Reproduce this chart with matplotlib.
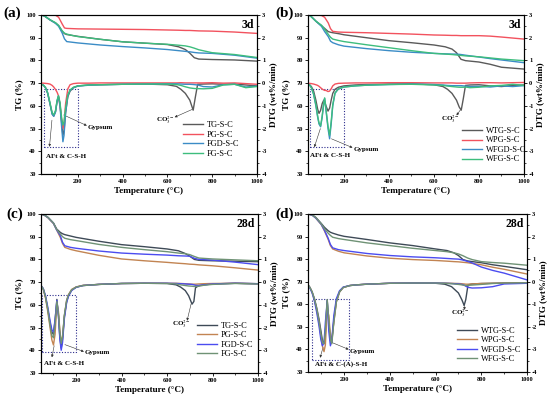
"""TG / DTG curves of the four cured pastes at 3 d and 28 d."""
import matplotlib
matplotlib.use("Agg")
import matplotlib.pyplot as plt
from matplotlib.patches import Rectangle
from matplotlib.ticker import MultipleLocator

plt.rcParams.update({
    "font.family": ["Liberation Serif", "DejaVu Serif"],
    "mathtext.fontset": "stix",
    "axes.unicode_minus": False,
    "axes.linewidth": 0.8,
})

# ---------------- panel (a): 3 d ----------------
A_T_TG = [35, 50, 76, 100, 114, 130, 140, 150, 175, 200, 300, 400, 500, 600, 650, 680, 700, 720, 740, 800, 900, 1000]
A_TG = {
    "TG-S-C": [100, 99.6, 97.8, 96.5, 95.3, 92.8, 91.8, 91.4, 91.0, 90.6, 89.3, 88.2, 87.6, 87.0, 86.0, 84.8, 83.2, 81.2, 80.6, 80.4, 80.2, 79.7],
    "PG-S-C": [100, 100, 100, 99.9, 99.0, 96.0, 94.3, 94.1, 94.0, 93.9, 93.8, 93.7, 93.6, 93.4, 93.3, 93.2, 93.2, 93.1, 93.0, 92.9, 92.5, 91.9],
    "FGD-S-C": [100, 99.6, 97.8, 96.3, 95.0, 92.0, 89.5, 88.3, 88.0, 87.7, 86.8, 86.1, 85.5, 84.8, 84.3, 84.0, 83.8, 83.5, 83.3, 83.1, 82.3, 81.0],
    "FG-S-C": [100, 99.6, 97.9, 96.6, 95.4, 93.0, 92.0, 91.6, 91.0, 90.5, 89.3, 88.2, 87.6, 87.1, 86.7, 86.4, 86.0, 85.4, 84.7, 83.4, 82.6, 81.3],
}
A_T_DTG = [35, 45, 55, 65, 75, 85, 92, 100, 107, 113, 120, 127, 133, 138, 145, 155, 165, 180, 200, 250,
           300, 400, 500, 600, 640, 660, 680, 700, 715, 725, 735, 760, 800, 850, 900, 950, 1000]
A_DTG = {
    "TG-S-C": [-0.04, -0.08, -0.20, -0.45, -0.90, -1.35, -1.45, -1.25, -0.80, -0.60, -0.90, -1.70, -2.30, -2.10, -1.30, -0.60, -0.35, -0.20, -0.12, -0.08,
               -0.07, -0.05, -0.04, -0.07, -0.14, -0.27, -0.45, -0.75, -1.19, -0.60, -0.05, -0.04, -0.03, -0.05, -0.04, -0.08, -0.12],
    "PG-S-C": [0.00, 0.00, -0.01, -0.02, -0.04, -0.10, -0.17, -0.28, -0.40, -0.55, -1.00, -1.60, -2.00, -1.80, -0.90, -0.25, -0.07, -0.02, 0.00, 0.00,
               0.01, 0.01, 0.01, 0.01, 0.01, 0.02, 0.01, 0.01, 0.01, 0.01, 0.01, 0.01, 0.02, 0.00, 0.01, -0.02, -0.05],
    "FGD-S-C": [-0.05, -0.08, -0.20, -0.45, -0.90, -1.37, -1.46, -1.27, -0.80, -0.57, -1.00, -1.90, -2.58, -2.30, -1.30, -0.55, -0.32, -0.20, -0.13, -0.09,
                -0.07, -0.05, -0.04, -0.03, -0.03, -0.04, -0.05, -0.05, -0.06, -0.07, -0.08, -0.15, -0.17, -0.07, -0.05, -0.17, -0.13],
    "FG-S-C": [-0.05, -0.08, -0.18, -0.42, -0.85, -1.30, -1.40, -1.20, -0.75, -0.55, -0.85, -1.50, -1.85, -1.70, -1.10, -0.52, -0.30, -0.18, -0.12, -0.08,
               -0.07, -0.05, -0.04, -0.04, -0.06, -0.10, -0.16, -0.21, -0.23, -0.24, -0.24, -0.25, -0.23, -0.08, -0.05, -0.20, -0.15],
}

# ---------------- panel (b): 3 d, W series ----------------
B_T_TG = [40, 50, 76, 100, 114, 130, 140, 150, 175, 200, 300, 400, 500, 600, 650, 680, 700, 720, 740, 800, 850, 900, 1000]
B_TG = {
    "WTG-S-C": [100, 99.7, 97.2, 95.3, 94.1, 92.7, 92.4, 92.2, 91.8, 91.3, 90.0, 88.7, 87.8, 86.8, 86.0, 85.0, 83.4, 80.5, 79.9, 79.3, 78.3, 77.0, 76.2],
    "WPG-S-C": [100, 100, 100, 99.8, 99.0, 96.5, 94.0, 92.8, 92.5, 92.4, 92.2, 91.9, 91.6, 91.2, 91.1, 91.0, 91.0, 90.9, 90.9, 90.9, 90.7, 90.3, 89.4],
    "WFGD-S-C": [100, 99.7, 97.2, 95.0, 92.7, 90.5, 88.5, 87.8, 86.9, 86.3, 85.2, 84.3, 83.6, 83.1, 82.9, 82.8, 82.8, 82.6, 82.3, 81.5, 80.8, 80.2, 79.0],
    "WFG-S-C": [100, 99.7, 97.2, 95.5, 93.7, 91.5, 90.2, 89.4, 88.8, 88.3, 86.9, 85.6, 84.3, 83.1, 82.8, 82.6, 82.4, 82.2, 82.0, 81.6, 81.1, 80.6, 79.9],
}
B_T_DTG = [40, 47, 55, 65, 75, 83, 89, 96, 103, 110, 114, 120, 129, 136, 143, 150, 160, 175, 200, 250,
           300, 400, 500, 600, 640, 660, 680, 700, 712, 721, 730, 740, 760, 800, 850, 900, 950, 1000]
B_DTG = {
    "WTG-S-C": [-0.05, -0.07, -0.15, -0.35, -0.75, -1.15, -1.33, -1.20, -0.90, -0.75, -0.80, -1.00, -1.23, -1.10, -0.75, -0.45, -0.27, -0.18, -0.12, -0.08,
                -0.06, -0.04, -0.03, -0.07, -0.15, -0.27, -0.45, -0.75, -1.05, -1.19, -0.70, -0.10, -0.08, -0.07, -0.12, -0.15, -0.10, -0.08],
    "WPG-S-C": [-0.01, -0.01, -0.02, -0.04, -0.07, -0.10, -0.14, -0.20, -0.26, -0.30, -0.32, -0.32, -0.37, -0.35, -0.25, -0.12, -0.04, -0.01, 0.00, 0.01,
                0.01, 0.02, 0.02, 0.01, 0.01, 0.01, 0.01, 0.00, 0.00, 0.00, 0.00, 0.00, 0.01, 0.02, 0.02, 0.01, 0.02, 0.03],
    "WFGD-S-C": [-0.07, -0.08, -0.20, -0.50, -1.00, -1.50, -1.80, -1.92, -1.50, -0.90, -0.67, -1.20, -2.00, -2.45, -1.80, -1.00, -0.45, -0.25, -0.17, -0.12,
                 -0.09, -0.06, -0.04, -0.06, -0.08, -0.10, -0.11, -0.11, -0.11, -0.11, -0.12, -0.13, -0.15, -0.14, -0.17, -0.12, -0.15, -0.11],
    "WFG-S-C": [-0.07, -0.08, -0.20, -0.48, -0.95, -1.45, -1.75, -1.88, -1.45, -0.85, -0.65, -1.15, -1.90, -2.30, -1.70, -0.95, -0.43, -0.25, -0.17, -0.12,
                -0.09, -0.06, -0.05, -0.08, -0.10, -0.13, -0.15, -0.17, -0.18, -0.18, -0.18, -0.17, -0.20, -0.18, -0.12, -0.10, -0.05, -0.10],
}

# ---------------- panel (c): 28 d ----------------
C_T_TG = [45, 60, 76, 100, 114, 130, 140, 150, 175, 200, 300, 400, 500, 600, 650, 680, 700, 720, 740, 800, 900, 1000]
C_TG = {
    "TG-S-C": [100, 99.5, 98.5, 96.0, 93.4, 91.9, 91.3, 90.9, 90.3, 89.7, 88.0, 86.5, 85.6, 84.6, 83.8, 82.6, 81.4, 80.0, 79.6, 79.4, 79.2, 79.0],
    "PG-S-C": [100, 99.5, 98.3, 95.8, 93.0, 89.7, 87.0, 85.3, 84.4, 83.8, 81.8, 80.2, 79.4, 78.7, 78.3, 78.1, 77.9, 77.8, 77.6, 77.2, 76.3, 75.3],
    "FGD-S-C": [100, 99.5, 98.4, 95.9, 93.0, 90.5, 87.5, 86.0, 85.3, 84.9, 83.7, 82.8, 82.3, 81.9, 81.6, 81.5, 81.4, 80.5, 80.0, 79.7, 78.8, 77.7],
    "FG-S-C": [100, 99.5, 98.5, 96.0, 93.2, 91.2, 90.0, 89.3, 88.7, 88.3, 86.6, 85.3, 84.3, 83.4, 82.8, 82.5, 82.1, 81.3, 80.6, 80.2, 79.8, 79.4],
}
C_T_DTG = [45, 55, 65, 75, 85, 93, 100, 107, 115, 122, 128, 134, 140, 148, 158, 166, 180, 200, 230, 300,
           400, 500, 600, 640, 660, 680, 695, 710, 718, 725, 740, 760, 800, 900, 1000]
C_DTG = {
    "TG-S-C": [-0.15, -0.30, -0.65, -1.20, -1.80, -2.20, -2.30, -1.70, -0.76, -1.50, -2.40, -2.90, -2.50, -1.50, -0.85, -0.60, -0.35, -0.22, -0.15, -0.10,
               -0.06, -0.05, -0.06, -0.12, -0.22, -0.37, -0.60, -0.97, -0.85, -0.25, -0.15, -0.12, -0.08, -0.05, -0.07],
    "PG-S-C": [-0.15, -0.30, -0.70, -1.30, -2.00, -2.55, -2.77, -2.30, -0.95, -1.30, -2.10, -2.65, -2.40, -1.50, -0.80, -0.55, -0.32, -0.21, -0.14, -0.10,
               -0.06, -0.05, -0.05, -0.05, -0.06, -0.07, -0.08, -0.09, -0.09, -0.09, -0.08, -0.07, -0.06, -0.05, -0.07],
    "FGD-S-C": [-0.15, -0.28, -0.60, -1.10, -1.70, -2.10, -2.20, -1.65, -0.80, -1.50, -2.50, -3.00, -2.65, -1.60, -0.90, -0.62, -0.37, -0.23, -0.15, -0.10,
                -0.06, -0.05, -0.05, -0.06, -0.07, -0.08, -0.09, -0.10, -0.12, -0.14, -0.15, -0.12, -0.08, -0.05, -0.07],
    "FG-S-C": [-0.15, -0.30, -0.65, -1.20, -1.90, -2.35, -2.45, -1.90, -0.85, -1.40, -2.20, -2.70, -2.40, -1.45, -0.80, -0.57, -0.34, -0.22, -0.15, -0.10,
               -0.06, -0.05, -0.06, -0.08, -0.12, -0.15, -0.17, -0.18, -0.19, -0.19, -0.18, -0.14, -0.10, -0.06, -0.08],
}

# ---------------- panel (d): 28 d, W series ----------------
D_T_TG = [42, 60, 76, 100, 114, 130, 140, 150, 175, 200, 300, 400, 500, 600, 650, 680, 700, 720, 740, 760, 800, 850, 900, 1000]
D_TG = {
    "WTG-S-C": [100, 99.6, 98.5, 95.8, 94.1, 92.6, 91.9, 91.5, 90.7, 90.1, 88.7, 87.2, 86.0, 84.5, 83.8, 82.8, 81.6, 79.8, 79.2, 78.9, 78.4, 77.5, 76.8, 75.3],
    "WPG-S-C": [100, 99.5, 98.2, 95.3, 92.5, 88.8, 86.0, 84.5, 83.5, 82.8, 81.4, 80.4, 79.8, 79.4, 79.1, 78.9, 78.8, 78.6, 78.4, 78.1, 77.5, 76.4, 75.5, 73.4],
    "WFGD-S-C": [100, 99.5, 98.2, 95.4, 92.8, 89.3, 86.5, 85.0, 84.2, 83.8, 82.5, 81.6, 81.0, 80.6, 80.3, 80.1, 80.0, 79.6, 79.0, 78.3, 76.5, 75.0, 73.8, 70.8],
    "WFG-S-C": [100, 99.6, 98.4, 95.6, 93.5, 91.5, 90.5, 89.7, 89.1, 88.7, 87.2, 86.0, 84.8, 83.8, 83.3, 82.8, 82.3, 81.5, 80.5, 79.8, 78.9, 78.5, 78.2, 77.3],
}
D_T_DTG = [42, 50, 60, 70, 80, 90, 98, 105, 112, 118, 126, 133, 140, 146, 155, 166, 180, 196, 225, 254,
           300, 400, 500, 600, 640, 670, 700, 715, 725, 732, 742, 760, 800, 850, 900, 1000]
D_DTG = {
    "WTG-S-C": [-0.14, -0.25, -0.45, -0.75, -1.15, -1.65, -2.15, -2.60, -2.75, -2.30, -0.80, -1.80, -2.60, -2.70, -1.70, -0.85, -0.45, -0.25, -0.17, -0.14,
                -0.11, -0.07, -0.06, -0.07, -0.11, -0.22, -0.50, -0.80, -1.05, -0.80, -0.14, -0.10, -0.08, -0.07, -0.06, -0.05],
    "WPG-S-C": [-0.14, -0.25, -0.47, -0.80, -1.25, -1.80, -2.40, -2.85, -3.10, -2.80, -1.20, -1.50, -2.40, -2.55, -1.80, -0.90, -0.45, -0.26, -0.17, -0.14,
                -0.11, -0.07, -0.06, -0.06, -0.06, -0.07, -0.08, -0.09, -0.10, -0.11, -0.11, -0.10, -0.08, -0.07, -0.06, -0.05],
    "WFGD-S-C": [-0.14, -0.27, -0.50, -0.85, -1.35, -1.95, -2.55, -2.84, -2.70, -1.80, -0.85, -2.20, -2.84, -2.60, -1.50, -0.75, -0.40, -0.24, -0.17, -0.14,
                 -0.11, -0.07, -0.06, -0.06, -0.07, -0.08, -0.10, -0.12, -0.15, -0.20, -0.25, -0.28, -0.27, -0.22, -0.10, -0.07],
    "WFG-S-C": [-0.14, -0.25, -0.45, -0.77, -1.20, -1.75, -2.30, -2.70, -2.75, -2.20, -0.80, -1.70, -2.55, -2.75, -1.80, -0.90, -0.45, -0.26, -0.17, -0.14,
                -0.11, -0.07, -0.06, -0.06, -0.07, -0.09, -0.12, -0.14, -0.16, -0.17, -0.16, -0.15, -0.12, -0.08, -0.06, -0.05],
}

COLORS_3D = ["#5a5a5a", "#f2525e", "#3b8cc6", "#3dbd7d"]
COLORS_28D = ["#3e4a57", "#c28452", "#4b4cf0", "#6f9275"]
SERIF = ["Liberation Serif", "DejaVu Serif"]


def style_axes(ax, ax2, xmin):
    ax.set_xlim(xmin, 1000)
    ax.set_ylim(30, 100)
    ax2.set_ylim(-4, 3)
    ax.xaxis.set_major_locator(MultipleLocator(200))
    ax.xaxis.set_minor_locator(MultipleLocator(100))
    ax.yaxis.set_major_locator(MultipleLocator(10))
    ax.yaxis.set_minor_locator(MultipleLocator(5))
    ax2.yaxis.set_major_locator(MultipleLocator(1))
    ax2.yaxis.set_minor_locator(MultipleLocator(0.5))
    for a in (ax, ax2):
        a.tick_params(which="major", direction="out", length=2.2, width=0.6, labelsize=4.6, pad=1.5)
        a.tick_params(which="minor", direction="out", length=1.2, width=0.5)
        for lab in a.get_xticklabels() + a.get_yticklabels():
            lab.set_fontweight("bold")
    ax.set_xlabel("Temperature (°C)", fontsize=6.6, fontweight="bold", labelpad=2)
    ax.set_ylabel("TG (%)", fontsize=6.6, fontweight="bold", labelpad=2)
    ax2.set_ylabel("DTG (wt%/min)", fontsize=6.6, fontweight="bold", labelpad=1)


def draw_panel(rect, t_tg, tg, t_dtg, dtg, colors, xmin, age, box, leg_anchor, notes):
    ax = fig.add_axes(rect)
    ax2 = ax.twinx()
    handles = []
    for (name, vals), c in zip(tg.items(), colors):
        h, = ax.plot(t_tg, vals, color=c, lw=1.0, label=name)
        handles.append(h)
    for (name, vals), c in zip(dtg.items(), colors):
        ax2.plot(t_dtg, vals, color=c, lw=1.0)
    style_axes(ax, ax2, xmin)
    x0, x1, y0, y1 = box
    ax.add_patch(Rectangle((x0, y0), x1 - x0, y1 - y0, fill=False, ls=(0, (1, 1.5)),
                           lw=0.8, ec="#2b2b8c", zorder=5))
    ax.text(0.985, 0.935, age, transform=ax.transAxes, ha="right", va="center",
            fontsize=8.5, fontweight="bold")
    for txt, txy, head, tail, ha in notes:
        ax.text(txy[0], txy[1], txt, ha=ha, va="center", fontsize=5, fontweight="bold", zorder=6)
        ax.annotate("", xy=head, xytext=tail,
                    arrowprops=dict(arrowstyle="-|>", lw=0.4, color="#333333",
                                    mutation_scale=3.5, shrinkA=0, shrinkB=0), zorder=6)
    ax2.legend(handles, [h.get_label() for h in handles], loc="upper left",
               bbox_to_anchor=leg_anchor, frameon=False, fontsize=6,
               handlelength=2.4, handletextpad=0.5, labelspacing=0.18,
               borderpad=0, borderaxespad=0)
    return ax


fig = plt.figure(figsize=(5.5, 3.99), dpi=100)

draw_panel([0.0745, 0.5639, 0.3927, 0.3985], A_T_TG, A_TG, A_T_DTG, A_DTG, COLORS_3D, 35, "3d",
           (48, 200, 42, 67.3), (0.657, 0.333),
           [("Gypsum", (245, 50.5), (240, 51.3), (136, 56), "left"),
            ("AFt & C-S-H", (149, 37.6), (73, 42), (84, 53.7), "center"),
            ("CO$_3^{2-}$", (590, 53.7), (632, 55), (712, 58.5), "center")])

draw_panel([0.56, 0.5639, 0.3927, 0.3985], B_T_TG, B_TG, B_T_DTG, B_DTG, COLORS_3D, 40, "3d",
           (47, 200, 42, 67.3), (0.713, 0.296),
           [("Gypsum", (243, 41), (238, 41.6), (144, 45.5), "left"),
            ("AFt & C-S-H", (138, 38.3), (68, 41.8), (95, 50), "center"),
            ("CO$_3^{2-}$", (673, 54), (700, 55.8), (718, 58.3), "center")])

draw_panel([0.0745, 0.0652, 0.3945, 0.3985], C_T_TG, C_TG, C_T_DTG, C_DTG, COLORS_28D, 45, "28d",
           (49, 199, 39.3, 64.3), (0.719, 0.323),
           [("Gypsum", (239, 38.9), (234, 39.4), (150, 42.5), "left"),
            ("AFt & C-S-H", (145, 34.2), (93, 36.9), (103, 42), "center"),
            ("CO$_3^{2-}$", (663, 51.5), (688, 53), (706, 60.5), "center")])

draw_panel([0.56, 0.0677, 0.3982, 0.396], D_T_TG, D_TG, D_T_DTG, D_DTG, COLORS_28D, 42, "28d",
           (61, 222, 35.5, 62.4), (0.679, 0.287),
           [("Gypsum", (225, 39.2), (220, 40), (148, 43), "left"),
            ("AFt & C-(A)-S-H", (188, 33.7), (95, 36.3), (108, 41), "center"),
            ("CO$_3^{2-}$", (709, 55.8), (728, 57.5), (724, 59.8), "center")])

for lab, x, y in [("(a)", 3, 13), ("(b)", 275, 13), ("(c)", 6, 214), ("(d)", 275, 214)]:
    fig.text(x / 550, 1 - y / 399, lab, ha="left", va="center", fontsize=11,
             fontweight="bold", family=SERIF)

fig.savefig("out.png", dpi=100)
